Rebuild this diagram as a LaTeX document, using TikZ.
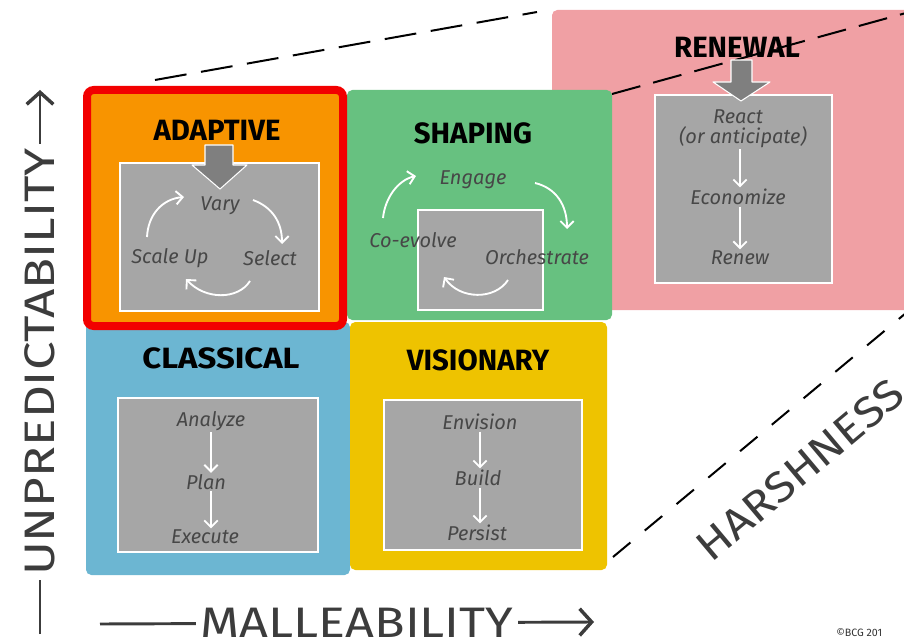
\documentclass[tikz,border=0pt]{standalone}
\usepackage{fontspec}
\usepackage{graphicx}
\setmainfont{Fira Sans}
\usetikzlibrary{arrows.meta}

\definecolor{adaptfill}{HTML}{F89400}
\definecolor{shapefill}{HTML}{67C180}
\definecolor{renewfill}{HTML}{F0A0A4}
\definecolor{classfill}{HTML}{6CB6D2}
\definecolor{visionfill}{HTML}{EEC300}
\definecolor{focusred}{HTML}{F20000}
\definecolor{boxgray}{HTML}{A6A6A6}
\definecolor{blockgray}{HTML}{7F7F7F}
\definecolor{inkgray}{HTML}{474747}
\definecolor{axisgray}{HTML}{3C3C3C}

\begin{document}
\begin{tikzpicture}[x=0.75pt,y=-0.75pt,
  region/.style={rounded corners=4pt},
  innerbox/.style={fill=boxgray,draw=white,line width=0.9pt},
  blockarrow/.style={fill=blockgray,draw=white,line width=0.8pt,line join=round},
  title/.style={font=\bfseries\fontsize{22}{24}\selectfont,text=black,inner sep=1pt},
  stage/.style={font=\itshape\fontsize{15}{16}\selectfont,text=inkgray,inner sep=1pt},
  flow/.style={draw=white,line width=1.4pt,-{Straight Barb[length=5pt,width=10pt,line width=1.4pt]}},
  dashline/.style={draw=black,line width=1.5pt},
  axisfont/.style={font=\fontsize{32}{34}\selectfont,text=axisgray},
  axislabel/.style={axisfont,fill=white,inner sep=3pt},
  axisline/.style={draw=axisgray,line width=2.2pt,-{Straight Barb[length=9pt,width=20pt,line width=2.6pt]}}
]
\useasboundingbox (0,0) rectangle (904,642);
\clip (0,0) rectangle (904,642);

% ---- renewal region (behind the others)
\fill[renewfill,region] (552,10) rectangle (912,310);

% ---- perspective dashed edges
\coordinate (topL) at (155,80);
\coordinate (topR) at (537,12);
\coordinate (midL) at (612,94);
\coordinate (midR) at (906,13);
\coordinate (lowL) at (613,557);
\coordinate (lowR) at (906,313);
\draw[dashline,dash pattern=on 24pt off 11pt] (topL) -- (topR);
\draw[dashline,dash pattern=on 22pt off 10pt] (midL) -- (midR);
\draw[dashline,dash pattern=on 17pt off 14pt] (lowL) -- (lowR);

% ---- the four quadrants
\fill[shapefill,region] (347,90) rectangle (612,320);
\fill[classfill,region] (86,322) rectangle (350,575);
\fill[visionfill,region] (350,322) rectangle (607,570);
\fill[adaptfill,region] (87,90) rectangle (343,326);
\draw[focusred,line width=6pt,rounded corners=5pt] (87,90) rectangle (343,326);

% ---- grey process panels
\path[innerbox] (120,163) rectangle (319,311);
\path[innerbox] (418,210) rectangle (543,310);
\path[innerbox] (655,95) rectangle (832,283);
\path[innerbox] (118,398) rectangle (318,552);
\path[innerbox] (384,400) rectangle (582,550);

% ---- heavy entry arrows
\path[blockarrow] (205,145) -- (233,145) -- (233,165) -- (247,165) -- (220,189) -- (192,165) -- (205,165) -- cycle;
\path[blockarrow] (731,60) -- (752,60) -- (752,82) -- (770,82) -- (741,101) -- (713,82) -- (731,82) -- cycle;

% ---- titles
\node[title] (adaptive) at (217,130) {ADAPTIVE};
\node[title] (shaping) at (473,133) {SHAPING};
\node[title] (renewal) at (737,47) {RENEWAL};
\node[title] (classical) at (221,358) {\scalebox{1.12}[1]{CLASSICAL}};
\node[title] (visionary) at (478,360) {VISIONARY};

% ---- adaptive cycle
\node[stage] (vary) at (220,206) {Vary};
\node[stage] (scaleup) at (170,258) {Scale Up};
\node[stage] (select) at (270,258) {Select};
\coordinate (ad1a) at (147,237); \coordinate (ad1b) at (184,197);
\coordinate (ad2a) at (253,200); \coordinate (ad2b) at (282,244);
\coordinate (ad3a) at (250,281); \coordinate (ad3b) at (186,279);
\draw[flow] (ad1a) .. controls (148,215) and (162,199) .. (ad1b);
\draw[flow] (ad2a) .. controls (272,207) and (282,222) .. (ad2b);
\draw[flow] (ad3a) .. controls (238,300) and (205,300) .. (ad3b);

% ---- shaping cycle
\node[stage] (engage) at (473,180) {Engage};
\node[stage] (coevolve) at (413,240) {Co-evolve};
\node[stage] (orchestrate) at (537,257) {Orchestrate};
\coordinate (sh1a) at (383,218); \coordinate (sh1b) at (416,176);
\coordinate (sh2a) at (535,183); \coordinate (sh2b) at (567,229);
\coordinate (sh3a) at (508,280); \coordinate (sh3b) at (444,277);
\draw[flow] (sh1a) .. controls (385,198) and (398,180) .. (sh1b);
\draw[flow] (sh2a) .. controls (556,188) and (567,205) .. (sh2b);
\draw[flow] (sh3a) .. controls (495,300) and (460,300) .. (sh3b);

% ---- renewal sequence
\node[stage] (react) at (738,117) {React};
\node[stage] (anticipate) at (743,137) {(or anticipate)};
\node[stage] (economize) at (738,197) {Economize};
\node[stage] (renew) at (740,258) {Renew};
\draw[flow] (anticipate.south -| renew) -- (economize.north -| renew);
\draw[flow] (economize.south -| renew) -- (renew.north);

% ---- classical sequence
\node[stage] (analyze) at (211,421) {Analyze};
\node[stage] (plan) at (206,482) {Plan};
\node[stage] (execute) at (205,537) {Execute};
\draw[flow] (analyze.south) -- (analyze.south |- plan.north);
\draw[flow] (analyze.south |- plan.south) -- (analyze.south |- execute.north);

% ---- visionary sequence
\node[stage] (envision) at (480,422) {Envision};
\node[stage] (build) at (478,478) {Build};
\node[stage] (persist) at (477,533) {Persist};
\draw[flow] (envision.south) -- (envision.south |- build.north);
\draw[flow] (envision.south |- build.south) -- (envision.south |- persist.north);

% ---- axes
\coordinate (vbase) at (40,634);
\coordinate (vtip) at (40,90);
\draw[axisline] (vbase) -- (vtip);
\node[axislabel,rotate=90] (unpred) at (40,362) {\scalebox{1.2}[1]{UNPREDICTABILITY}};

\coordinate (hbase) at (100,624);
\coordinate (htip) at (594,622);
\draw[axisline] (hbase) -- (htip);
\node[axislabel] (malle) at (357,623) {\scalebox{1.18}[1]{MALLEABILITY}};

\node[axisfont,rotate=40] (harsh) at (800,470) {\scalebox{1.12}[1]{HARSHNESS}};

\node[font=\fontsize{8}{9}\selectfont,text=black!80,anchor=west,inner sep=0pt] (credit) at (836,633) {©BCG 201};
\end{tikzpicture}
\end{document}
